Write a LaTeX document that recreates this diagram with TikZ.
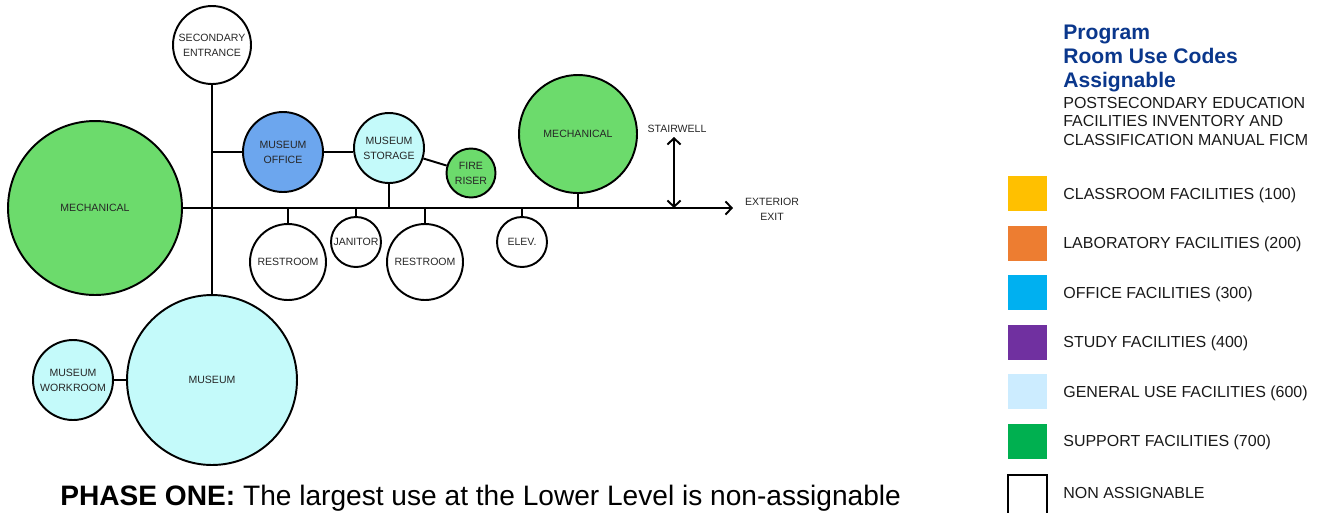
\documentclass[tikz,border=0pt]{standalone}
\usepackage{fontspec}
\setmainfont{Liberation Sans}
\usetikzlibrary{arrows.meta}
\definecolor{roomgreen}{RGB}{108,219,108}
\definecolor{roomblue}{RGB}{108,166,238}
\definecolor{roomcyan}{RGB}{196,250,250}
\definecolor{legyellow}{RGB}{255,192,0}
\definecolor{legorange}{RGB}{237,125,49}
\definecolor{legblue}{RGB}{0,176,240}
\definecolor{legpurple}{RGB}{112,48,160}
\definecolor{leglight}{RGB}{204,236,255}
\definecolor{leggreen}{RGB}{0,176,80}
\definecolor{headblue}{RGB}{10,55,140}

\begin{document}
\begin{tikzpicture}[x=0.02cm, y=-0.02cm,
    room/.style={circle, draw, line width=1.1pt, inner sep=0pt, align=center, text=black!85, font=\fontsize{6}{8.5}\selectfont},
    link/.style={line width=1.1pt},
    flow/.style={line width=1.1pt, -{Straight Barb[length=3.5pt,width=7.5pt]}},
    twoway/.style={line width=1.1pt, {Straight Barb[length=3.5pt,width=7.5pt]}-{Straight Barb[length=3.5pt,width=7.5pt]}},
    tag/.style={align=center, inner sep=0pt, text=black!85, font=\fontsize{6}{8.5}\selectfont},
    swatch/.style={minimum width=0.78cm, minimum height=0.7cm, inner sep=0pt},
    legtext/.style={anchor=west, inner sep=0pt, text=black!90, font=\fontsize{9.1}{11}\selectfont}]
    \useasboundingbox (0,0) rectangle (1323,512);
    \clip (0,0) rectangle (1323,512);

    % rooms
    \node[room, minimum size=3.48cm, fill=roomgreen] (mechW) at (95,208) {MECHANICAL};
    \node[room, minimum size=1.56cm] (entry) at (212,45) {SECONDARY\\ENTRANCE};
    \node[room, minimum size=1.6cm, fill=roomblue] (office) at (283,152) {MUSEUM\\OFFICE};
    \node[room, minimum size=1.4cm, fill=roomcyan] (storage) at (389,148) {MUSEUM\\STORAGE};
    \node[room, minimum size=0.98cm, fill=roomgreen] (riser) at (471,173) {FIRE\\RISER};
    \node[room, minimum size=1.52cm] (restA) at (288,262) {RESTROOM};
    \node[room, minimum size=1.0cm] (janitor) at (356,242) {JANITOR};
    \node[room, minimum size=1.52cm] (restB) at (425,262) {RESTROOM};
    \node[room, minimum size=1.0cm] (elev) at (522,242) {ELEV.};
    \node[room, minimum size=2.36cm, fill=roomgreen] (mechE) at (578,134) {MECHANICAL};
    \node[room, minimum size=3.4cm, fill=roomcyan] (museum) at (212,380) {MUSEUM};
    \node[room, minimum size=1.6cm, fill=roomcyan] (workroom) at (73,380) {MUSEUM\\WORKROOM};

    % corridor
    \coordinate (exitpt) at (733,208);
    \draw[flow] (mechW.east) -- (exitpt);
    \node[tag] (exitlbl) at (772,209) {EXTERIOR\\EXIT};
    \draw[link] (entry) -- (museum);
    \draw[link] (office.west) -- (office.west -| entry);
    \draw[link] (office.east) -- (office.east -| storage.west);
    \draw[link] (storage) -- (riser);
    \foreach \r in {storage, mechE}
        \draw[link] (\r.south) -- (\r.south |- exitpt);
    \foreach \r in {restA, janitor, restB, elev}
        \draw[link] (\r.north) -- (\r.north |- exitpt);
    \draw[link] (workroom) -- (museum);

    % stairwell
    \node[tag] (stairlbl) at (677,129) {STAIRWELL};
    \coordinate (stairtop) at (674,137);
    \coordinate (stairfoot) at (674,208);
    \draw[twoway] (stairtop) -- (stairfoot);

    % caption
    \node[anchor=base west, inner sep=0pt, font=\fontsize{16}{19}\selectfont] (caption) at (60,505)
        {\textbf{PHASE ONE:} The largest use at the Lower Level is non-assignable};

    % legend
    \node[anchor=north west, inner sep=0pt, align=left, text=headblue, font=\fontsize{12}{13.6}\selectfont\bfseries] (legendhead) at (1063,25)
        {Program\\Room Use Codes\\Assignable};
    \node[anchor=north west, inner sep=0pt, align=left, text=black!90, font=\fontsize{9.1}{10.5}\selectfont] (legendsub) at (1063,97)
        {POSTSECONDARY EDUCATION\\FACILITIES INVENTORY AND\\CLASSIFICATION MANUAL FICM};
    \foreach \c/\t [count=\i from 0] in {legyellow/{CLASSROOM FACILITIES (100)}, legorange/{LABORATORY FACILITIES (200)},
        legblue/{OFFICE FACILITIES (300)}, legpurple/{STUDY FACILITIES (400)},
        leglight/{GENERAL USE FACILITIES (600)}, leggreen/{SUPPORT FACILITIES (700)}} {
        \node[swatch, fill=\c] (sw\i) at (1027.5,193.5+49.5*\i) {};
        \node[legtext] (lab\i) at (1063,195+49.5*\i) {\t};
    }
    \node[swatch, draw, line width=1.1pt, fill=white, minimum height=1cm, anchor=north] (sw6) at (1027.5,474) {};
    \node[legtext] (lab6) at (1063,493) {NON ASSIGNABLE};
\end{tikzpicture}
\end{document}
